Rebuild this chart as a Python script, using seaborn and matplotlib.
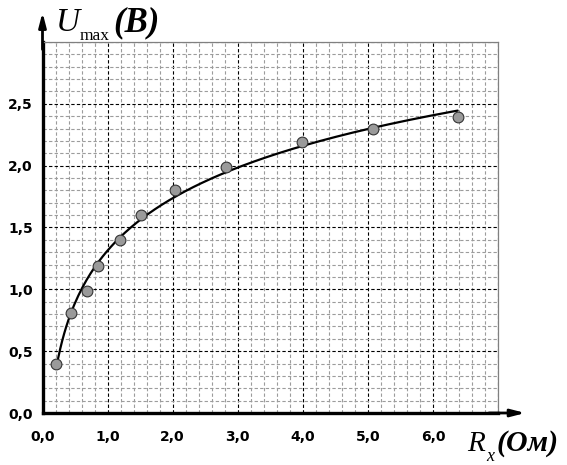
import numpy as np
import pandas as pd
import matplotlib.pyplot as plt
import seaborn as sns
from matplotlib.ticker import MultipleLocator, FixedLocator

r_x = [0.21, 0.44, 0.68, 0.85, 1.19, 1.52, 2.04, 2.82, 3.99, 5.08, 6.38]
u_max = [0.40, 0.81, 0.99, 1.19, 1.40, 1.60, 1.80, 1.99, 2.19, 2.30, 2.39]

x_ticks = [0, 1, 2, 3, 4, 5, 6, 7]
x_labels = ['0,0', '1,0', '2,0', '3,0', '4,0', '5,0', '6,0', '']
y_ticks = [0.0, 0.5, 1.0, 1.5, 2.0, 2.5, 3.0]
y_labels = ['0,0', '0,5', '1,0', '1,5', '2,0', '2,5', '']

df = pd.DataFrame({'R': r_x, 'U': u_max})

# logarithmic trendline (as in a spreadsheet) fitted to the points
a, b = np.polyfit(np.log(df['R']), df['U'], 1)
fit = pd.DataFrame({'R': np.linspace(df['R'].min(), df['R'].max(), 200)})
fit['U'] = a * np.log(fit['R']) + b

sns.set_theme(style='white')
plt.rcParams['font.family'] = ['DejaVu Sans']
plt.rcParams['text.color'] = 'black'
plt.rcParams['xtick.color'] = 'black'
plt.rcParams['ytick.color'] = 'black'

fig = plt.figure(figsize=(5.67, 4.65), dpi=100)
ax = fig.add_axes([42.5 / 567, 1 - 413 / 465, 455.5 / 567, 371 / 465])

# grid
ax.set_xlim(0, 7)
ax.set_ylim(0, 3)
ax.xaxis.set_major_locator(FixedLocator(x_ticks))
ax.yaxis.set_major_locator(FixedLocator(y_ticks))
ax.xaxis.set_minor_locator(MultipleLocator(0.2))
ax.yaxis.set_minor_locator(MultipleLocator(0.1))
ax.grid(which='minor', color='#9c9c9c', lw=0.8, ls=(0, (3, 2)))
ax.grid(which='major', color='black', lw=0.8, ls=(0, (3, 2)))
ax.set_axisbelow(True)

sns.lineplot(data=fit, x='R', y='U', ax=ax, color='black', lw=1.6, zorder=3)
sns.scatterplot(data=df, x='R', y='U', ax=ax, s=60, color='#9a9a9a',
                edgecolor='#333333', linewidth=0.8, zorder=4)

ax.set_xticks(x_ticks)
ax.set_xticklabels(x_labels)
ax.set_yticks(y_ticks)
ax.set_yticklabels(y_labels)
ax.set_xlabel('')
ax.set_ylabel('')
ax.tick_params(which='major', direction='out', length=4, width=2, color='black',
               labelcolor='black', labelsize=10)
ax.tick_params(which='minor', length=0)
ax.tick_params(axis='x', pad=8)
ax.tick_params(axis='y', pad=3)
for lab in ax.get_xticklabels() + ax.get_yticklabels():
    lab.set_fontweight('bold')

for side in ['left', 'bottom']:
    ax.spines[side].set_linewidth(2.4)
    ax.spines[side].set_color('black')
for side in ['top', 'right']:
    ax.spines[side].set_linewidth(0.9)
    ax.spines[side].set_color('#808080')

# axis arrows
ax.annotate('', xy=(0, 1.08), xytext=(0, 0.98), xycoords='axes fraction',
            arrowprops=dict(arrowstyle='-|>,head_length=0.7,head_width=0.18',
                            lw=2.0, color='black', shrinkA=0, shrinkB=0))
ax.annotate('', xy=(1.06, 0), xytext=(0.98, 0), xycoords='axes fraction',
            arrowprops=dict(arrowstyle='-|>,head_length=0.7,head_width=0.18',
                            lw=2.0, color='black', shrinkA=0, shrinkB=0))

# axis titles
serif = ['Liberation Serif', 'DejaVu Serif']
fig.text(56 / 567, 1 - 31 / 465, 'U', family=serif, style='italic', size=24,
         va='baseline', ha='left')
fig.text(80 / 567, 1 - 40 / 465, 'max', family=serif, size=12.5,
         va='baseline', ha='left')
fig.text(113 / 567, 1 - 31 / 465, '(В)', family=serif, style='italic',
         weight='bold', size=25, va='baseline', ha='left')

fig.text(467 / 567, 1 - 451 / 465, 'R', family=serif, style='italic', size=21,
         va='baseline', ha='left')
fig.text(486 / 567, 1 - 461 / 465, 'x', family=serif, style='italic', size=13,
         va='baseline', ha='left')
fig.text(497 / 567, 1 - 451 / 465, '(Ом)', family=serif, style='italic',
         weight='bold', size=21.5, va='baseline', ha='left')

fig.savefig('out.png', dpi=100)
